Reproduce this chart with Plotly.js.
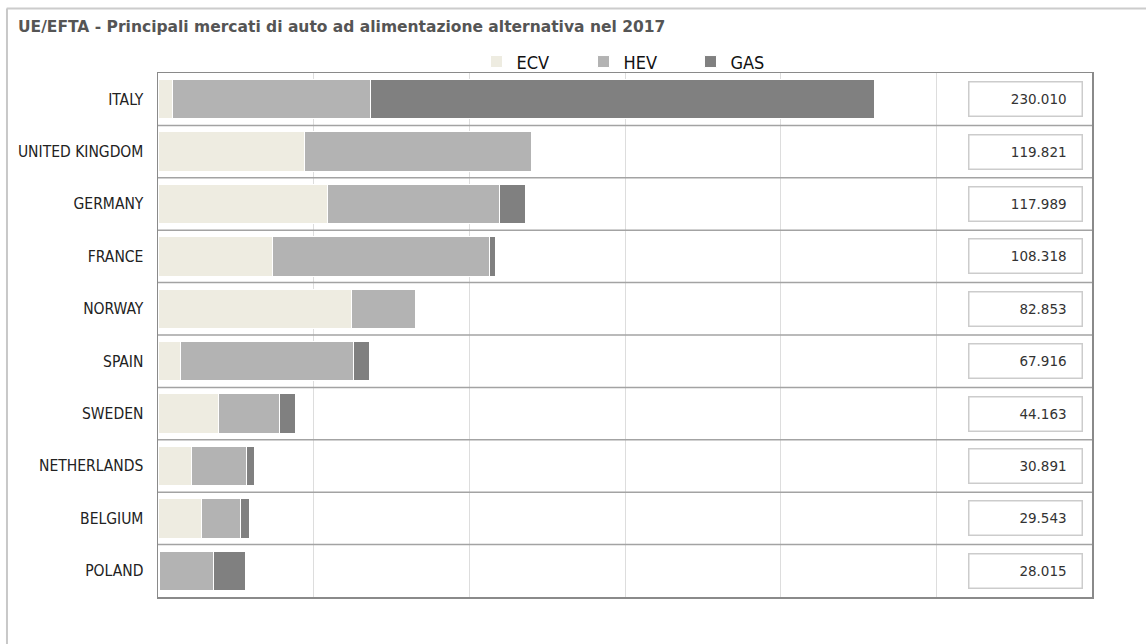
<!DOCTYPE html>
<html>
<head>
<meta charset="utf-8">
<script src="https://cdn.plot.ly/plotly-3.0.1.min.js"></script>
<style>
html,body{margin:0;padding:0;background:#fff;}
#chart{width:1146px;height:644px;}
</style>
</head>
<body>
<div id="chart"></div>
<script>
var categories = ["ITALY","UNITED KINGDOM","GERMANY","FRANCE","NORWAY","SPAIN","SWEDEN","NETHERLANDS","BELGIUM","POLAND"];
var ecv = [4700, 47000, 54500, 36700, 62200, 7200, 19500, 10800, 14100, 600];
var hev = [63400, 72821, 55100, 69700, 20653, 55500, 19400, 17700, 12300, 17200];
var gas = [161910, 0, 8389, 1918, 0, 5216, 5263, 2391, 3143, 10215];
var totalLabels = ["230.010","119.821","117.989","108.318","82.853","67.916","44.163","30.891","29.543","28.015"];
var seriesNames = ["ECV","HEV","GAS"];
var seriesColors = ["#EEECE1","#B3B3B3","#808080"];

var font = "DejaVu Sans Condensed, DejaVu Sans, sans-serif";
var series = [ecv, hev, gas];
var traces = series.map(function(vals, i){
  return {
    type: "bar", orientation: "h", name: seriesNames[i],
    x: vals, y: categories,
    marker: {color: seriesColors[i], line: {color: "#ffffff", width: 1}},
    width: 0.75,
    hoverinfo: "x+name"
  };
});

var shapes = [];
for (var k = 0; k < categories.length - 1; k++) {
  shapes.push({type:"line", xref:"paper", yref:"y", x0:0, x1:1, y0:k+0.5, y1:k+0.5,
    line:{color:"#a3a3a3", width:1.5}, layer:"above"});
}
shapes.push({type:"line", xref:"paper", yref:"paper", x0:-0.162, x1:1.06, y0:1.123, y1:1.123, line:{color:"#cccccc", width:2}});
shapes.push({type:"line", xref:"paper", yref:"paper", x0:-0.1617, x1:-0.1617, y0:1.123, y1:-0.2, line:{color:"#c8c8c8", width:2}});

var annotations = categories.map(function(c, i){
  return {xref:"paper", yref:"y", x:0.9293, y:c, xanchor:"center", yanchor:"middle",
    text: totalLabels[i] + "&nbsp;&nbsp;&nbsp;", showarrow:false, align:"right",
    width:108, height:29, borderpad:2, bordercolor:"#cccccc", borderwidth:1.5,
    bgcolor:"#ffffff", font:{family:"DejaVu Sans, sans-serif", size:13.5, color:"#333333"}};
});

var layout = {
  width:1146, height:644,
  margin:{l:158, r:54, t:73, b:47},
  paper_bgcolor:"#ffffff", plot_bgcolor:"#ffffff",
  barmode:"stack", bargap:0.25,
  title:{text:"UE/EFTA - Principali mercati di auto ad alimentazione alternativa nel 2017",
    x:0.0157, xanchor:"left", y:0.958, yanchor:"middle",
    font:{family:"DejaVu Sans, sans-serif", size:15.5, color:"#555555", weight:"bold"}},
  xaxis:{range:[0,300000], dtick:50000, showticklabels:false, showgrid:true, gridcolor:"#dddddd",
    zeroline:false, showline:true, mirror:true, linecolor:"#8a8a8a", linewidth:1.5, ticks:"", fixedrange:true},
  yaxis:{type:"category", autorange:"reversed", showgrid:false, zeroline:false,
    showline:true, mirror:true, linecolor:"#8a8a8a", linewidth:1.5, ticks:"",
    ticklabelstandoff:10, tickfont:{family:font, size:15.5, color:"#222222"}, fixedrange:true},
  legend:{orientation:"h", x:0.341, xanchor:"left", y:0.986, yanchor:"bottom",
    bgcolor:"rgba(0,0,0,0)",
    font:{family:font, size:18, color:"#111111"}, entrywidth:62, entrywidthmode:"pixels",
    itemclick:false, traceorder:"normal"},
  shapes:shapes, annotations:annotations, showlegend:true
};

Plotly.newPlot("chart", traces, layout, {displayModeBar:false, staticPlot:true});
</script>
</body>
</html>
